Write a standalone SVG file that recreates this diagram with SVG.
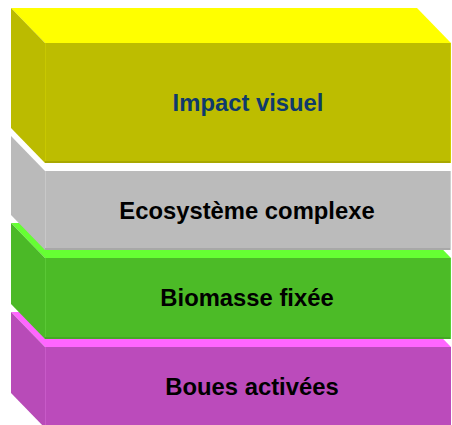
<svg xmlns="http://www.w3.org/2000/svg" width="452" height="425" viewBox="0 0 452 425">
  <style>
    .lbl { font-family: "Liberation Sans", Arial, sans-serif; font-weight: bold; font-size: 23.8px; text-anchor: middle; fill: #000000; }
  </style>
  <rect x="0" y="0" width="452" height="425" fill="#FFFFFF"/>

  <g id="boues-activees">
    <polygon points="11,312 417,312 451,347 45,347" fill="#FF66FF"/>
    <polygon points="11,312 45,347 45,428 11,393" fill="#B84BB8"/>
    <rect x="45" y="347" width="406" height="81" fill="#BB4BBB"/>
    <line x1="45.5" y1="347" x2="45.5" y2="428" stroke="#C85AC8" stroke-width="1"/>
    <text class="lbl" x="252" y="395">Boues activées</text>
  </g>

  <g id="biomasse-fixee">
    <polygon points="11,223 417,223 451,258 45,258" fill="#66FF33"/>
    <polygon points="11,223 45,258 45,339 11,304" fill="#4BB927"/>
    <rect x="45" y="258" width="406" height="81" fill="#4CBB27"/>
    <line x1="45" y1="338" x2="451" y2="338" stroke="#44A823" stroke-width="2"/>
    <line x1="45.5" y1="258" x2="45.5" y2="337" stroke="#5AC835" stroke-width="1"/>
    <line x1="450.5" y1="258" x2="450.5" y2="339" stroke="#5AD035" stroke-width="1"/>
    <text class="lbl" x="247" y="306">Biomasse fixée</text>
  </g>

  <g id="ecosysteme-complexe">
    <polygon points="11,136 417,136 451,171 45,171" fill="#FFFFFF"/>
    <polygon points="11,136 45,171 45,250 11,215" fill="#BABABA"/>
    <rect x="45" y="171" width="406" height="79" fill="#BBBBBB"/>
    <line x1="45" y1="249" x2="451" y2="249" stroke="#A8A8A8" stroke-width="2"/>
    <line x1="45.5" y1="171" x2="45.5" y2="248" stroke="#C8C8C8" stroke-width="1"/>
    <line x1="450.5" y1="171" x2="450.5" y2="250" stroke="#D0D0D0" stroke-width="1"/>
    <text class="lbl" x="247" y="219">Ecosystème complexe</text>
  </g>

  <g id="impact-visuel">
    <polygon points="11,8 417,8 451,43 45,43" fill="#FFFF00"/>
    <polygon points="11,8 45,43 45,163 11,128" fill="#BBBB00"/>
    <rect x="45" y="43" width="406" height="120" fill="#BDBD00"/>
    <line x1="45" y1="162" x2="451" y2="162" stroke="#A8A800" stroke-width="2"/>
    <line x1="45.5" y1="43" x2="45.5" y2="161" stroke="#C8C800" stroke-width="1"/>
    <line x1="450.5" y1="43" x2="450.5" y2="163" stroke="#CFCF00" stroke-width="1"/>
    <text class="lbl" x="248" y="111" style="fill:#0F3A6B">Impact visuel</text>
  </g>

  <g id="connectors"/>
</svg>
